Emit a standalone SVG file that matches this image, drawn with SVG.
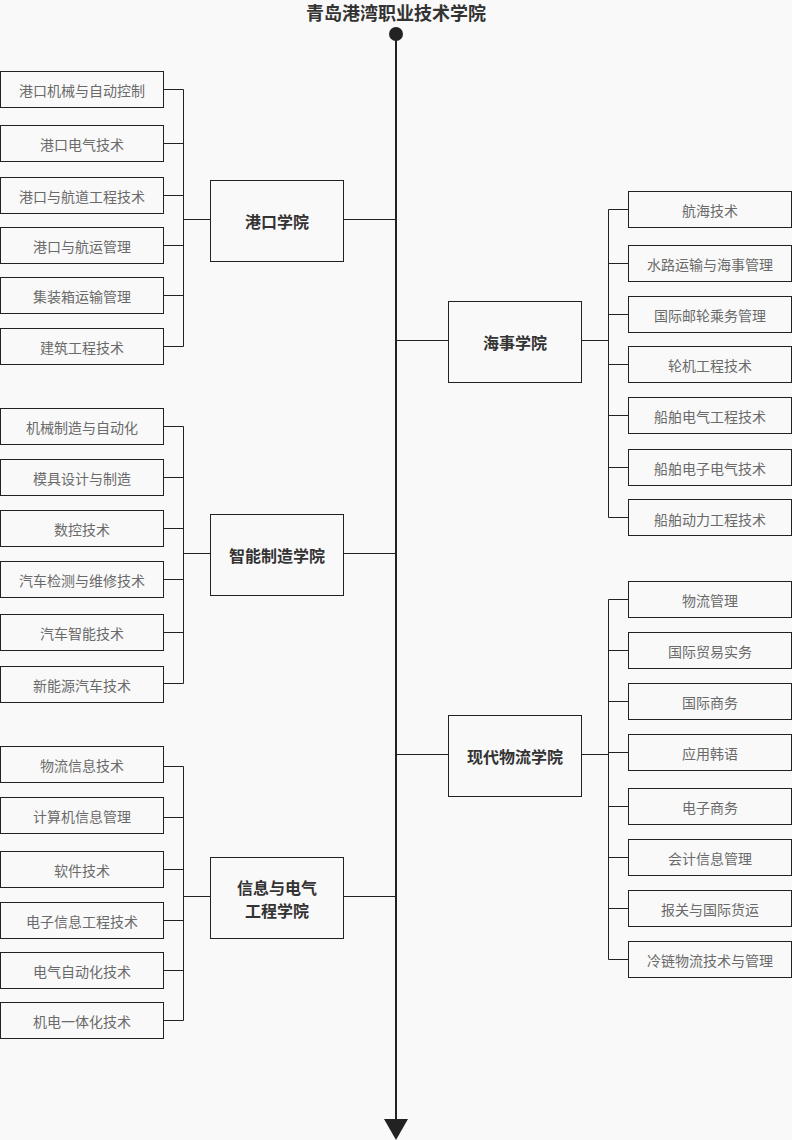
<svg xmlns="http://www.w3.org/2000/svg" width="792" height="1140" viewBox="0 0 792 1140">
<style>
.bg{fill:#f9f9f9}
.leaf rect{fill:#f9f9f9;stroke:#222;stroke-width:1}
.leaf text{font-family:"Noto Sans CJK SC","Noto Sans",sans-serif;font-size:14px;fill:#6a6a6a;text-anchor:middle;dominant-baseline:central}
.col rect{fill:#f9f9f9;stroke:#222;stroke-width:1}
.col text{font-family:"Noto Sans CJK SC","Noto Sans",sans-serif;font-size:16px;font-weight:bold;fill:#333;text-anchor:middle;dominant-baseline:central}
.c path{fill:none;stroke:#222;stroke-width:1}
.title{font-family:"Noto Sans CJK SC","Noto Sans",sans-serif;font-size:18px;font-weight:bold;fill:#333;text-anchor:middle}
</style>
<rect class="bg" x="0" y="0" width="792" height="1140"/>
<text id="title" class="title" x="396" y="20">青岛港湾职业技术学院</text>
<g id="connectors" class="c">
<path d="M396,34V1122" style="stroke-width:2"/>
<circle cx="396" cy="34" r="7" fill="#222"/>
<path d="M384,1119H408L396,1140Z" style="fill:#222;stroke:none"/>
<path d="M343.5,219.5H396M183.5,219.5H210M183.5,89.5V346.5M163,89.5H183.5M163,143.5H183.5M163,195.5H183.5M163,245.5H183.5M163,295.5H183.5M163,346.5H183.5"/>
<path d="M343.5,553.5H396M183.5,553.5H210M183.5,426.5V683.5M163,426.5H183.5M163,477.5H183.5M163,528.5H183.5M163,579.5H183.5M163,632.5H183.5M163,683.5H183.5"/>
<path d="M343.5,896.5H396M183.5,896.5H210M183.5,766.5V1020.5M163,766.5H183.5M163,817.5H183.5M163,869.5H183.5M163,920.5H183.5M163,970.5H183.5M163,1020.5H183.5"/>
<path d="M396,340.5H448M581.5,340.5H608.5M608.5,209.5V517.5M608.5,209.5H628M608.5,263.5H628M608.5,314.5H628M608.5,364.5H628M608.5,415.5H628M608.5,467.5H628M608.5,517.5H628"/>
<path d="M396,754.5H448M581.5,754.5H608.5M608.5,599.5V959.5M608.5,599.5H628M608.5,650.5H628M608.5,701.5H628M608.5,752.5H628M608.5,806.5H628M608.5,857.5H628M608.5,908.5H628M608.5,959.5H628"/>
</g>
<g id="col-gangkou" class="col"><rect x="210.5" y="180.5" width="133" height="81"/><text x="277" y="221">港口学院</text></g>
<g id="col-zhineng" class="col"><rect x="210.5" y="514.5" width="133" height="81"/><text x="277" y="555">智能制造学院</text></g>
<g id="col-xinxi" class="col"><rect x="210.5" y="857.5" width="133" height="81"/><text x="277" y="887">信息与电气</text><text x="277" y="910">工程学院</text></g>
<g id="col-haishi" class="col"><rect x="448.5" y="301.5" width="133" height="81"/><text x="515" y="342">海事学院</text></g>
<g id="col-wuliu" class="col"><rect x="448.5" y="715.5" width="133" height="81"/><text x="515" y="756">现代物流学院</text></g>

<g id="l1" class="leaf"><rect x="0.5" y="71.5" width="163" height="36"/><text x="82" y="89.5">港口机械与自动控制</text></g>
<g id="l2" class="leaf"><rect x="0.5" y="125.5" width="163" height="36"/><text x="82" y="143.5">港口电气技术</text></g>
<g id="l3" class="leaf"><rect x="0.5" y="177.5" width="163" height="36"/><text x="82" y="195.5">港口与航道工程技术</text></g>
<g id="l4" class="leaf"><rect x="0.5" y="227.5" width="163" height="36"/><text x="82" y="245.5">港口与航运管理</text></g>
<g id="l5" class="leaf"><rect x="0.5" y="277.5" width="163" height="36"/><text x="82" y="295.5">集装箱运输管理</text></g>
<g id="l6" class="leaf"><rect x="0.5" y="328.5" width="163" height="36"/><text x="82" y="346.5">建筑工程技术</text></g>

<g id="l7" class="leaf"><rect x="0.5" y="408.5" width="163" height="36"/><text x="82" y="426.5">机械制造与自动化</text></g>
<g id="l8" class="leaf"><rect x="0.5" y="459.5" width="163" height="36"/><text x="82" y="477.5">模具设计与制造</text></g>
<g id="l9" class="leaf"><rect x="0.5" y="510.5" width="163" height="36"/><text x="82" y="528.5">数控技术</text></g>
<g id="l10" class="leaf"><rect x="0.5" y="561.5" width="163" height="36"/><text x="82" y="579.5">汽车检测与维修技术</text></g>
<g id="l11" class="leaf"><rect x="0.5" y="614.5" width="163" height="36"/><text x="82" y="632.5">汽车智能技术</text></g>
<g id="l12" class="leaf"><rect x="0.5" y="666.5" width="163" height="36"/><text x="82" y="684.5">新能源汽车技术</text></g>

<g id="l13" class="leaf"><rect x="0.5" y="746.5" width="163" height="36"/><text x="82" y="764.5">物流信息技术</text></g>
<g id="l14" class="leaf"><rect x="0.5" y="797.5" width="163" height="36"/><text x="82" y="815.5">计算机信息管理</text></g>
<g id="l15" class="leaf"><rect x="0.5" y="851.5" width="163" height="36"/><text x="82" y="869.5">软件技术</text></g>
<g id="l16" class="leaf"><rect x="0.5" y="902.5" width="163" height="36"/><text x="82" y="920.5">电子信息工程技术</text></g>
<g id="l17" class="leaf"><rect x="0.5" y="952.5" width="163" height="36"/><text x="82" y="970.5">电气自动化技术</text></g>
<g id="l18" class="leaf"><rect x="0.5" y="1002.5" width="163" height="36"/><text x="82" y="1020.5">机电一体化技术</text></g>

<g id="r1" class="leaf"><rect x="628.5" y="191.5" width="163" height="36"/><text x="710" y="209.5">航海技术</text></g>
<g id="r2" class="leaf"><rect x="628.5" y="245.5" width="163" height="36"/><text x="710" y="263.5">水路运输与海事管理</text></g>
<g id="r3" class="leaf"><rect x="628.5" y="296.5" width="163" height="36"/><text x="710" y="314.5">国际邮轮乘务管理</text></g>
<g id="r4" class="leaf"><rect x="628.5" y="346.5" width="163" height="36"/><text x="710" y="364.5">轮机工程技术</text></g>
<g id="r5" class="leaf"><rect x="628.5" y="397.5" width="163" height="36"/><text x="710" y="415.5">船舶电气工程技术</text></g>
<g id="r6" class="leaf"><rect x="628.5" y="449.5" width="163" height="36"/><text x="710" y="467.5">船舶电子电气技术</text></g>
<g id="r7" class="leaf"><rect x="628.5" y="499.5" width="163" height="36"/><text x="710" y="518.5">船舶动力工程技术</text></g>

<g id="r8" class="leaf"><rect x="628.5" y="581.5" width="163" height="36"/><text x="710" y="599.5">物流管理</text></g>
<g id="r9" class="leaf"><rect x="628.5" y="632.5" width="163" height="36"/><text x="710" y="650.5">国际贸易实务</text></g>
<g id="r10" class="leaf"><rect x="628.5" y="683.5" width="163" height="36"/><text x="710" y="701.5">国际商务</text></g>
<g id="r11" class="leaf"><rect x="628.5" y="734.5" width="163" height="36"/><text x="710" y="752.5">应用韩语</text></g>
<g id="r12" class="leaf"><rect x="628.5" y="788.5" width="163" height="36"/><text x="710" y="806.5">电子商务</text></g>
<g id="r13" class="leaf"><rect x="628.5" y="839.5" width="163" height="36"/><text x="710" y="857.5">会计信息管理</text></g>
<g id="r14" class="leaf"><rect x="628.5" y="890.5" width="163" height="36"/><text x="710" y="908.5">报关与国际货运</text></g>
<g id="r15" class="leaf"><rect x="628.5" y="941.5" width="163" height="36"/><text x="710" y="959.5">冷链物流技术与管理</text></g>
</svg>
